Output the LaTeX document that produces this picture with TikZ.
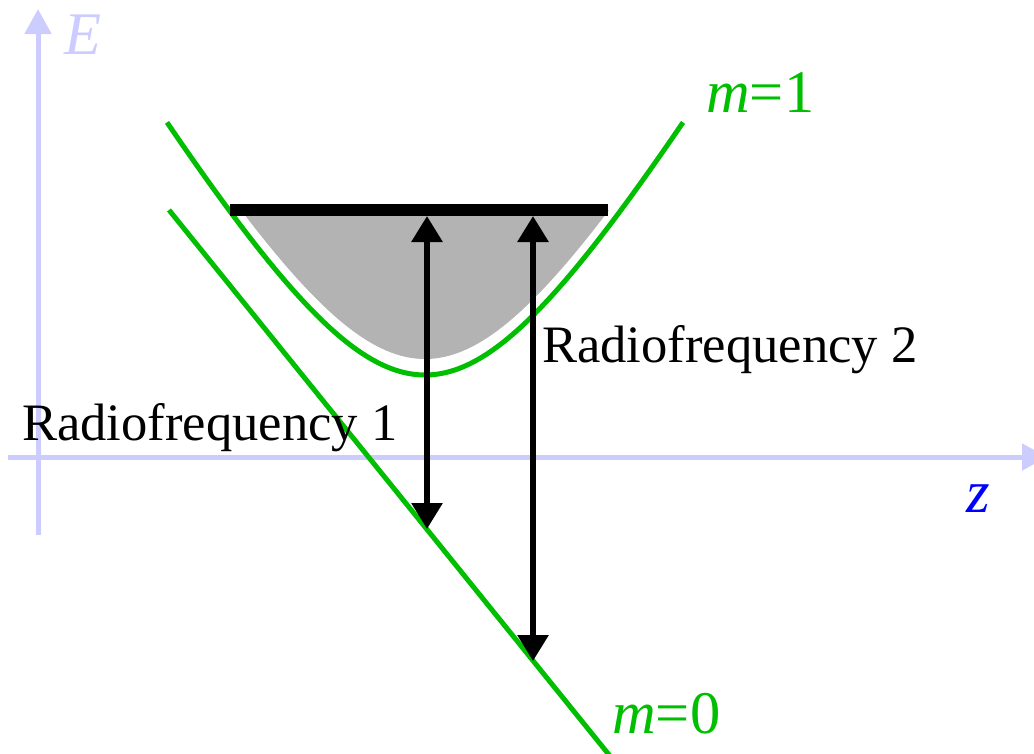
\documentclass[tikz,border=0pt]{standalone}
\usepackage{fontspec}
\setmainfont{Liberation Serif}
\usetikzlibrary{arrows.meta}
\definecolor{axiscol}{RGB}{204,204,255}
\definecolor{curvegreen}{RGB}{0,190,0}
\definecolor{fillgray}{RGB}{179,179,179}
\definecolor{zblue}{RGB}{0,0,255}
\tikzset{
  axisline/.style={draw=axiscol,line width=5pt,-{Triangle[width=26pt,length=25pt]}},
  greenline/.style={draw=curvegreen,line width=5pt},
  rfarrow/.style={draw=black,line width=6pt,{Triangle[width=30pt,length=26pt]}-{Triangle[width=30pt,length=26pt]}},
  rflabel/.style={anchor=base west,inner sep=0pt,font=\fontsize{52.6}{60}\selectfont},
  biglabel/.style={anchor=base west,inner sep=0pt,font=\fontsize{60.5}{70}\selectfont},
}
\begin{document}
\begin{tikzpicture}[x=1pt,y=-1pt]
\useasboundingbox (0,0) rectangle (1034,753);
\clip (0,0) rectangle (1034,753);
% axes
\coordinate (vbot) at (38,535);
\coordinate (vtop) at (38,9);
\coordinate (hleft) at (8,457);
\coordinate (hright) at (1047,457);
\draw[axisline] (vbot) -- (vtop);
\draw[axisline] (hleft) -- (hright);
\node[biglabel,text=axiscol] (E) at (64,54) {\textit{E}};
\node[biglabel,text=zblue] (z) at (966,512) {\textit{z}};
% gray region
\begin{scope}
\clip (0,210) rectangle (1034,420);
\fill[fillgray] plot[domain=200:650,samples=120,smooth] (\x,{359 + 250 - 100*sqrt(6.25 + (1.69*(\x-425)/100)^2)}) -- cycle;
\end{scope}
% curves
\draw[greenline] plot[domain=167:683,samples=150,smooth] (\x,{375 + 250 - 100*sqrt(6.25 + (1.69*(\x-425)/100)^2)});
\coordinate (l0a) at (169,210);
\coordinate (l0b) at (610,756);
\draw[greenline] (l0a) -- (l0b);
% bar
\coordinate (barl) at (230,210);
\coordinate (barr) at (608,210);
\draw[line width=12pt] (barl) -- (barr);
% arrows
\coordinate (a1t) at (427,216);
\coordinate (a1b) at (427,529);
\coordinate (a2t) at (533,216);
\coordinate (a2b) at (533,661);
\draw[rfarrow] (a1b) -- (a1t);
\draw[rfarrow] (a2b) -- (a2t);
% labels
\node[rflabel] (rf1) at (22,440) {Radiofrequency 1};
\node[rflabel] (rf2) at (542,362) {Radiofrequency 2};
\node[biglabel,text=curvegreen] (m1) at (706,112) {\textit{m}=1};
\node[biglabel,text=curvegreen] (m0) at (612,733) {\textit{m}=0};
\end{tikzpicture}
\end{document}
